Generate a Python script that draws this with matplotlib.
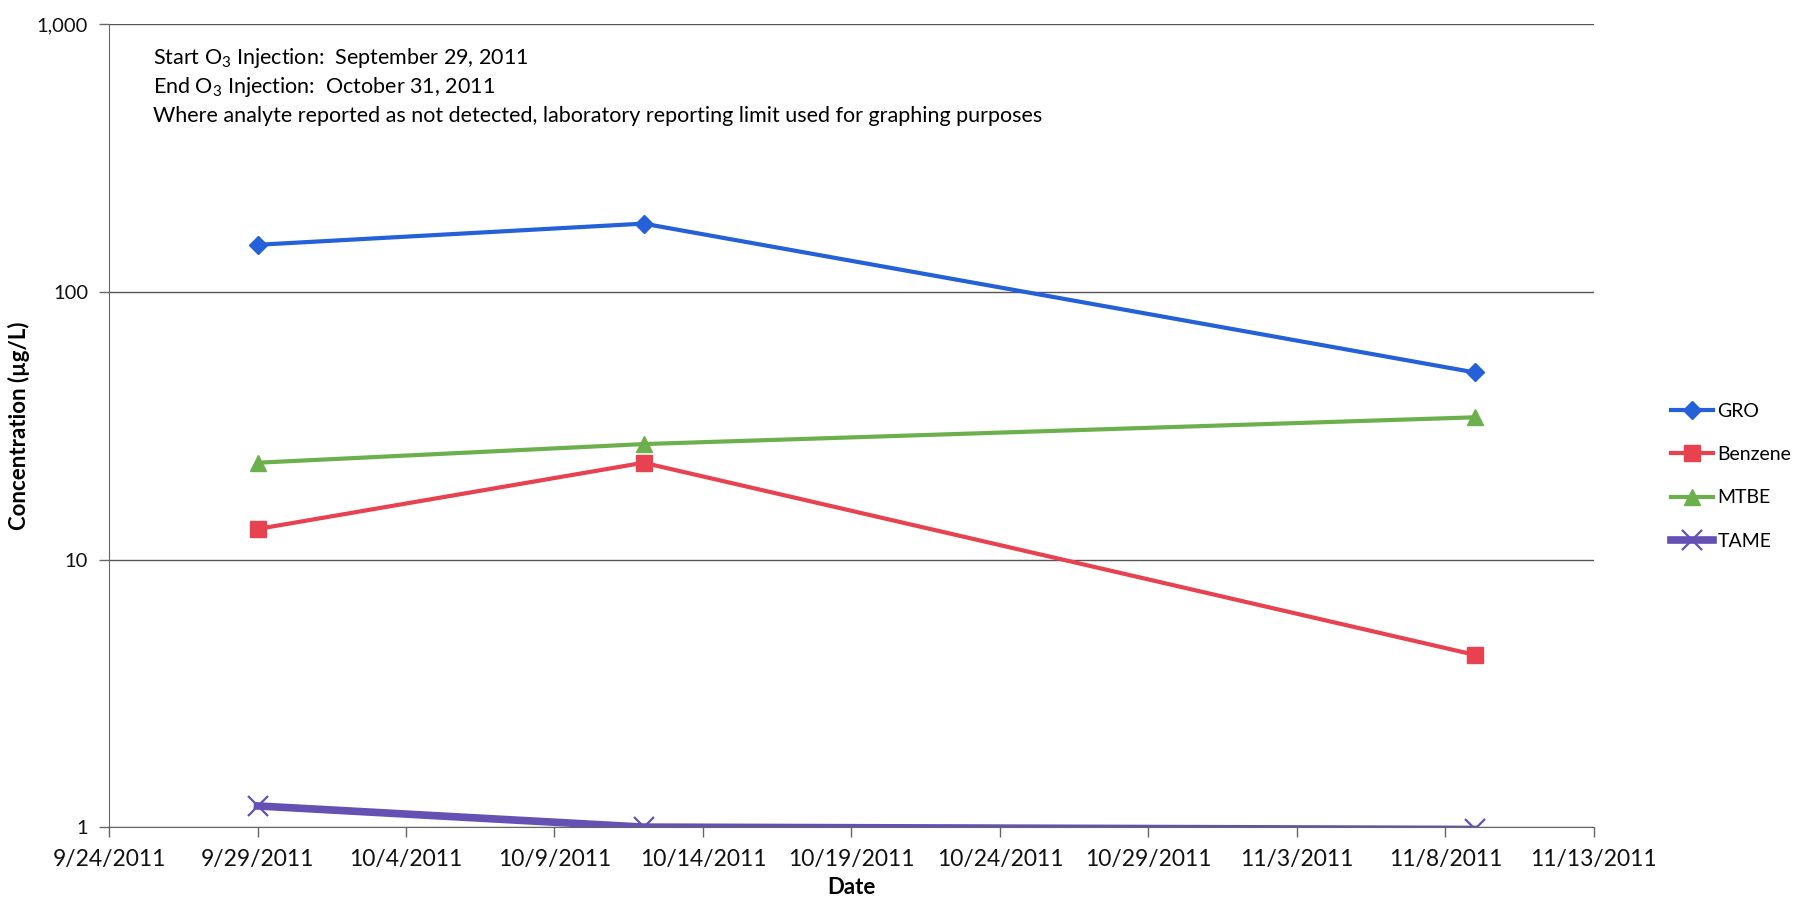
import matplotlib
matplotlib.use("Agg")
import matplotlib.pyplot as plt
import matplotlib.ticker as mticker
import pandas as pd

plt.rcParams['font.family'] = ['Lato', 'DejaVu Sans']
plt.rcParams['mathtext.fontset'] = 'custom'
plt.rcParams['mathtext.rm'] = 'Lato'
plt.rcParams['mathtext.it'] = 'Lato:italic'

# sampling dates and concentrations (ug/L)
sample_dates = pd.to_datetime(['2011-09-29', '2011-10-12', '2011-11-09'])
gro = [150, 180, 50]
benzene = [13, 23, 4.4]
mtbe = [23, 27, 34]
tame = [1.2, 1.0, 0.98]

tick_dates = pd.date_range('2011-09-24', '2011-11-13', freq='5D')
tick_labels = [f"{d.month}/{d.day}/{d.year}" for d in tick_dates]

fig = plt.figure(figsize=(18.05, 9.01), dpi=100)
ax = fig.add_axes([0.0604, 0.082, 0.8226, 0.891])

ax.plot(sample_dates, gro, color='#2460d8', lw=3, marker='D', ms=9, label='GRO')
ax.plot(sample_dates, benzene, color='#e8414f', lw=3, marker='s', ms=11, label='Benzene')
ax.plot(sample_dates, mtbe, color='#6cb04e', lw=3, marker='^', ms=12, label='MTBE')
ax.plot(sample_dates, tame, color='#6550b4', lw=5.5, marker='x', ms=15, mew=1.6,
        label='TAME')

ax.set_yscale('log')
ax.set_ylim(1, 1000)
ax.yaxis.set_major_locator(mticker.FixedLocator([1, 10, 100, 1000]))
ax.yaxis.set_minor_locator(mticker.NullLocator())
ax.yaxis.set_major_formatter(mticker.FuncFormatter(lambda v, p: f"{v:,.0f}"))

ax.set_xlim(tick_dates[0], tick_dates[-1])
ax.set_xticks(tick_dates)
ax.set_xticklabels(tick_labels)

ax.grid(axis='y', color='#555555', lw=1)
ax.set_axisbelow(True)
for s in ['top', 'right']:
    ax.spines[s].set_visible(False)
for s in ['left', 'bottom']:
    ax.spines[s].set_color('#666666')
ax.tick_params(axis='both', colors='#666666', labelcolor='#111111', length=7, width=1)
ax.tick_params(axis='x', labelsize=16.5, pad=9)
ax.tick_params(axis='y', labelsize=14.5, pad=8)

ax.set_xlabel('Date', fontsize=16, fontweight='bold', labelpad=5)
ax.set_ylabel('Concentration (µg/L)', fontsize=16, fontweight='bold', labelpad=5)

notes = ['Start O$_3$ Injection:  September 29, 2011',
         'End O$_3$ Injection:  October 31, 2011',
         'Where analyte reported as not detected, laboratory reporting limit used for graphing purposes']
for i, t in enumerate(notes):
    fig.text(153 / 1805, 1 - (58 + 29 * i) / 901, t, fontsize=15.5, va='center')

leg = ax.legend(loc='center left', bbox_to_anchor=(1.04, 0.437), frameon=False,
                fontsize=14, handlelength=2.2, handletextpad=0.2, labelspacing=1.35)

fig.savefig('out.png', dpi=100)
